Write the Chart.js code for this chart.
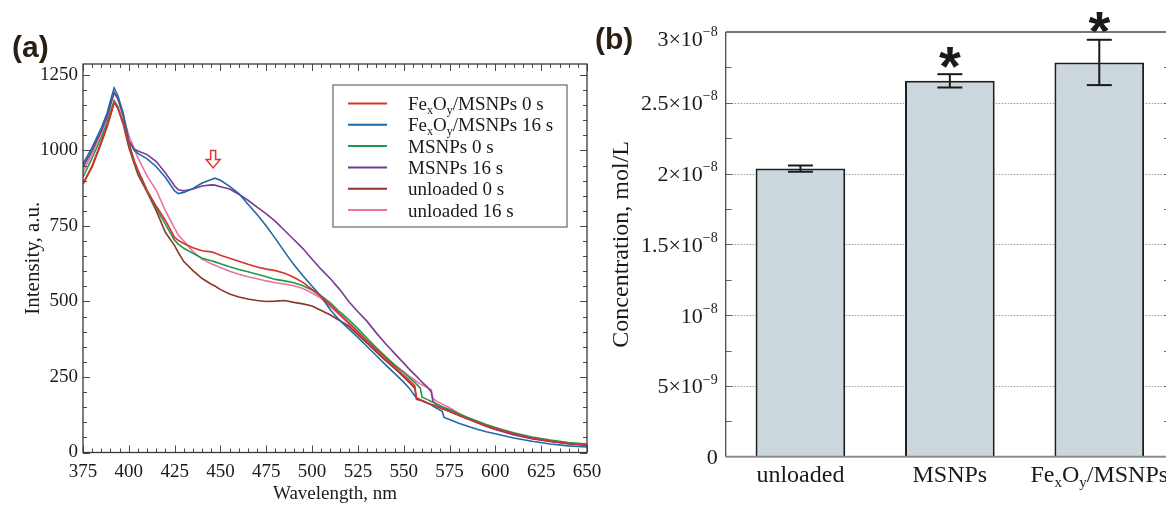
<!DOCTYPE html>
<html>
<head>
<meta charset="utf-8">
<title>Spectra and concentration</title>
<script src="https://cdn.jsdelivr.net/npm/chart.js@4.4.1/dist/chart.umd.min.js"></script>
<style>
    html, body { margin: 0; padding: 0; background: #fff; overflow: hidden; }
    body { width: 1166px; height: 505px; position: relative; }
    #wrapA { position: absolute; left: 0; top: 0; width: 610px; height: 505px; }
    #wrapB { position: absolute; left: 590px; top: 0; width: 584px; height: 505px; }
</style>
</head>
<body>
<div id="wrapA"><canvas id="spectra"></canvas></div>
<div id="wrapB"><canvas id="conc"></canvas></div>
<script>
// ---------- data: panel (a), emission spectra ----------
const wavelengths = [
    375, 380, 385, 388, 390, 392, 394, 397, 400, 403,
    405, 410, 415, 420, 425, 427, 430, 435, 440, 445,
    447, 450, 455, 460, 465, 470, 475, 480, 485, 490,
    495, 500, 505, 510, 515, 520, 525, 530, 535, 540,
    545, 550, 553, 556, 557, 559, 560, 563, 565, 566,
    568, 571, 572, 575, 580, 585, 590, 595, 600, 610,
    620, 630, 640, 650
];
const seriesLabels = ['Fe_xO_y/MSNPs 0 s', 'Fe_xO_y/MSNPs 16 s', 'MSNPs 0 s', 'MSNPs 16 s', 'unloaded 0 s', 'unloaded 16 s'];

const feox0s = [
    890, 950, 1030, 1080, 1120, 1158, 1140, 1090, 1025, 965,
    935, 868, 815, 768, 712, 702, 692, 678, 668, 664,
    660, 653, 643, 633, 623, 614, 607, 602, 593, 580,
    563, 540, 515, 488, 459, 430, 400, 370, 341, 312,
    284, 255, 239, 221, 180, 175, 172, 164, 159, 157,
    152, 145, 143, 136, 123, 111, 100, 89, 79, 62,
    48, 38, 30, 25
];
const feox16s = [
    955, 1010, 1075, 1120, 1165, 1207, 1182, 1122, 1032, 1000,
    990, 972, 946, 910, 866, 857, 861, 874, 892, 904,
    908, 901, 881, 857, 822, 788, 750, 708, 664, 622,
    585, 550, 516, 472, 438, 409, 381, 351, 321, 291,
    262, 233, 213, 188, 181, 175, 171, 163, 158, 154,
    146, 136, 116, 109, 97, 87, 77, 69, 62, 48,
    37, 28, 22, 18
];
const msnp0s = [
    912, 975, 1045, 1090, 1130, 1165, 1145, 1092, 1025, 962,
    930, 865, 808, 755, 702, 690, 676, 659, 643, 635,
    631, 625, 615, 606, 598, 590, 582, 573, 568, 562,
    552, 538, 518, 495, 466, 440, 410, 378, 347, 318,
    290, 264, 248, 232, 226, 214, 183, 175, 169, 166,
    159, 151, 149, 142, 128, 116, 104, 93, 83, 65,
    51, 41, 33, 28
];
const msnp16s = [
    945, 1000, 1065, 1110, 1150, 1192, 1172, 1115, 1030, 1004,
    998, 986, 963, 925, 882, 870, 866, 872, 882, 886,
    885, 880, 872, 855, 835, 812, 790, 765, 735, 705,
    675, 640, 606, 575, 540, 500, 466, 434, 396, 361,
    328, 296, 276, 258, 252, 239, 233, 216, 201, 168,
    161, 151, 147, 139, 126, 113, 99, 87, 76, 59,
    46, 37, 30, 26
];
const unloaded0s = [
    888, 945, 1025, 1075, 1115, 1160, 1140, 1085, 1010, 955,
    920, 862, 800, 728, 685, 662, 632, 602, 576, 557,
    551, 539, 525, 515, 508, 503, 500, 501, 503, 497,
    492, 485, 470, 455, 437, 418, 390, 362, 333, 305,
    278, 250, 232, 213, 176, 173, 171, 164, 159, 157,
    152, 145, 143, 136, 123, 111, 99, 88, 78, 61,
    47, 37, 29, 24
];
const unloaded16s = [
    930, 990, 1060, 1105, 1150, 1189, 1170, 1110, 1050, 1005,
    975, 915, 868, 800, 742, 720, 700, 665, 640, 625,
    620, 612, 600, 590, 582, 575, 568, 562, 558, 552,
    543, 528, 510, 483, 455, 425, 397, 368, 340, 315,
    290, 268, 253, 240, 235, 227, 224, 214, 208, 178,
    170, 160, 157, 148, 130, 113, 99, 87, 77, 59,
    46, 36, 29, 23
];
const intensitySeries = [feox0s, feox16s, msnp0s, msnp16s, unloaded0s, unloaded16s];

const wavelengthTicks = [375, 400, 425, 450, 475, 500, 525, 550, 575, 600, 625, 650];
const intensityTicks = [0, 250, 500, 750, 1000, 1250];
const intensityMax = 1286;
const arrowWavelength = 446;   // the hollow arrow over the 447 nm band
const arrowIntensity = 942;

// ---------- data: panel (b), concentration ----------
const groups = ['unloaded', 'MSNPs', 'Fe_xO_y/MSNPs'];
const concMean = [2.035e-8, 2.655e-8, 2.785e-8];
const concErr = [0.022e-8, 0.047e-8, 0.16e-8];
const significant = [false, true, true];
const concTicks = [0, 5e-9, 1e-8, 1.5e-8, 2e-8, 2.5e-8, 3e-8];
const concTickLabels = ['0', '5×10^−9', '10^−8', '1.5×10^−8', '2×10^−8', '2.5×10^−8', '3×10^−8'];

// ---------- styles ----------
const SERIF = '"Liberation Serif", "Times New Roman", serif';
const SANS = '"Liberation Sans", Arial, sans-serif';
const seriesColors = ['#d8312f', '#1f6aa5', '#1f9a48', '#7b3b90', '#8e3626', '#ec72a2'];
const INK = '#1a1a1a';

// "_x" -> subscript x, "^..." -> rest as superscript
function richParts(str) {
    const parts = [];
    let buf = '';
    for (let i = 0; i < str.length; i++) {
        const c = str[i];
        if (c === '_') {
            if (buf) parts.push({ t: buf });
            buf = '';
            parts.push({ t: str[i + 1], sub: true });
            i++;
        } else if (c === '^') {
            if (buf) parts.push({ t: buf });
            buf = '';
            parts.push({ t: str.slice(i + 1), sup: true });
            break;
        } else {
            buf += c;
        }
    }
    if (buf) parts.push({ t: buf });
    return parts;
}

function drawRich(ctx, str, x, y, size, align) {
    const parts = richParts(str);
    const small = Math.round(size * 0.64);
    let w = 0;
    parts.forEach(p => {
        p.size = (p.sub || p.sup) ? small : size;
        ctx.font = p.size + 'px ' + SERIF;
        p.w = ctx.measureText(p.t).width;
        w += p.w;
    });
    let cx = align === 'right' ? x - w : align === 'center' ? x - w / 2 : x;
    ctx.textAlign = 'left';
    ctx.textBaseline = 'alphabetic';
    parts.forEach(p => {
        ctx.font = p.size + 'px ' + SERIF;
        const dy = p.sub ? size * 0.2 : p.sup ? -size * 0.45 : 0;
        ctx.fillText(p.t, cx, y + dy);
        cx += p.w;
    });
}

function seg(ctx, x1, y1, x2, y2) {
    ctx.beginPath();
    ctx.moveTo(x1, y1);
    ctx.lineTo(x2, y2);
    ctx.stroke();
}

// ---------- panel (a) ----------
const spectraDecor = {
    id: 'spectraDecor',
    afterDraw(chart) {
        const { ctx, chartArea: a, scales: { x, y } } = chart;
        ctx.save();

        // inward ticks on all four sides
        ctx.strokeStyle = '#4a4a4a';
        ctx.lineWidth = 1;
        for (let w = 375; w <= 650; w += 5) {
            const px = Math.round(x.getPixelForValue(w)) + 0.5;
            const len = (w - 375) % 25 === 0 ? 7 : 4;
            seg(ctx, px, a.bottom, px, a.bottom - len);
            seg(ctx, px, a.top, px, a.top + len);
        }
        for (let v = 0; v <= 1250; v += 50) {
            const py = Math.round(y.getPixelForValue(v)) + 0.5;
            const len = v % 250 === 0 ? 7 : 4;
            seg(ctx, a.left, py, a.left + len, py);
            seg(ctx, a.right, py, a.right - len, py);
        }
        ctx.strokeStyle = '#3a3a3a';
        ctx.lineWidth = 1.3;
        ctx.strokeRect(a.left, a.top, a.right - a.left, a.bottom - a.top);

        // legend box
        const bx = a.left + 250, by = a.top + 21, bw = 234, bh = 142;
        ctx.fillStyle = '#fff';
        ctx.fillRect(bx, by, bw, bh);
        ctx.strokeStyle = '#666';
        ctx.lineWidth = 1.2;
        ctx.strokeRect(bx, by, bw, bh);
        seriesLabels.forEach((lab, i) => {
            const ry = by + 18.5 + i * 21.3;
            ctx.strokeStyle = seriesColors[i];
            ctx.lineWidth = 2;
            seg(ctx, bx + 15, ry, bx + 54, ry);
            ctx.fillStyle = INK;
            drawRich(ctx, lab, bx + 75, ry + 6.5, 19, 'left');
        });

        // hollow arrow marking the 447 nm band
        const tx = x.getPixelForValue(arrowWavelength);
        const ty = y.getPixelForValue(arrowIntensity);
        ctx.beginPath();
        ctx.moveTo(tx - 2.5, ty - 17.5);
        ctx.lineTo(tx + 2.5, ty - 17.5);
        ctx.lineTo(tx + 2.5, ty - 8.5);
        ctx.lineTo(tx + 7, ty - 8.5);
        ctx.lineTo(tx, ty);
        ctx.lineTo(tx - 7, ty - 8.5);
        ctx.lineTo(tx - 2.5, ty - 8.5);
        ctx.closePath();
        ctx.fillStyle = '#fff';
        ctx.fill();
        ctx.strokeStyle = '#e3352c';
        ctx.lineWidth = 1.5;
        ctx.stroke();

        // panel letter
        ctx.fillStyle = '#2a1d12';
        ctx.font = 'bold 30px ' + SANS;
        ctx.textAlign = 'left';
        ctx.textBaseline = 'alphabetic';
        ctx.fillText('(a)', 12, 57);
        ctx.restore();
    }
};

new Chart(document.getElementById('spectra'), {
    type: 'line',
    data: {
        datasets: intensitySeries.map((ys, i) => ({
            label: seriesLabels[i],
            data: wavelengths.map((w, k) => ({ x: w, y: ys[k] })),
            borderColor: seriesColors[i],
            borderWidth: 1.6,
            pointRadius: 0,
            tension: 0,
            fill: false
        }))
    },
    options: {
        responsive: true,
        maintainAspectRatio: false,
        animation: false,
        layout: { padding: { left: 0, top: 64, right: 23, bottom: 0 } },
        plugins: { legend: { display: false }, tooltip: { enabled: false } },
        scales: {
            x: {
                type: 'linear',
                min: 375,
                max: 650,
                grid: { display: false, drawTicks: false },
                border: { display: false },
                afterBuildTicks: s => { s.ticks = wavelengthTicks.map(v => ({ value: v })); },
                afterFit: s => { s.height = 52.5; },
                ticks: {
                    color: INK,
                    font: { family: SERIF, size: 19 },
                    padding: 8,
                    maxRotation: 0,
                    autoSkip: false,
                    callback: v => String(v)
                },
                title: { display: true, text: 'Wavelength, nm', color: INK, font: { family: SERIF, size: 19 }, padding: 0 }
            },
            y: {
                min: 0,
                max: intensityMax,
                grid: { display: false, drawTicks: false },
                border: { display: false },
                afterBuildTicks: s => { s.ticks = intensityTicks.map(v => ({ value: v })); },
                afterFit: s => { s.width = 83; },
                ticks: {
                    color: INK,
                    font: { family: SERIF, size: 19 },
                    padding: 5,
                    autoSkip: false,
                    callback: v => String(v)
                },
                title: { display: true, text: 'Intensity, a.u.', color: INK, font: { family: SERIF, size: 21 }, padding: { top: 21, bottom: 0 } }
            }
        }
    },
    plugins: [spectraDecor]
});

// ---------- panel (b) ----------
const concDecor = {
    id: 'concDecor',
    beforeDatasetsDraw(chart) {
        const { ctx, chartArea: a, scales: { y } } = chart;
        ctx.save();
        ctx.strokeStyle = '#9a9a9a';
        ctx.lineWidth = 1;
        ctx.setLineDash([1.5, 1.5]);
        concTicks.slice(1, -1).forEach(v => {
            const py = Math.round(y.getPixelForValue(v)) + 0.5;
            seg(ctx, a.left, py, a.right, py);
        });
        ctx.setLineDash([]);
        ctx.strokeStyle = '#666';
        for (let k = 1; k < 12; k++) {
            const py = Math.round(y.getPixelForValue(k * 2.5e-9)) + 0.5;
            const len = k % 2 === 0 ? 7 : 6;
            seg(ctx, a.left, py, a.left + len, py);
            seg(ctx, a.right, py, a.right - 10, py);
        }
        ctx.restore();
    },
    afterDatasetsDraw(chart) {
        const { ctx, scales: { x, y } } = chart;
        ctx.save();
        ctx.strokeStyle = INK;
        ctx.lineWidth = 2;
        concMean.forEach((m, i) => {
            const cx = x.getPixelForValue(i);
            const top = y.getPixelForValue(m + concErr[i]);
            const bot = y.getPixelForValue(m - concErr[i]);
            seg(ctx, cx, top, cx, bot);
            seg(ctx, cx - 12.5, top, cx + 12.5, top);
            seg(ctx, cx - 12.5, bot, cx + 12.5, bot);
            if (significant[i]) {
                ctx.fillStyle = INK;
                ctx.font = 'bold 56px ' + SANS;
                ctx.textAlign = 'center';
                ctx.textBaseline = 'alphabetic';
                ctx.fillText('*', cx, top + 10.5);
            }
        });
        ctx.restore();
    },
    afterDraw(chart) {
        const { ctx, chartArea: a, scales: { x, y } } = chart;
        ctx.save();
        ctx.lineWidth = 1.3;
        ctx.strokeStyle = '#4a4a4a';
        seg(ctx, a.left, a.top, a.right, a.top);
        seg(ctx, a.left, a.top, a.left, a.bottom);
        seg(ctx, a.right, a.top, a.right, a.bottom);
        ctx.strokeStyle = '#8a8a8a';
        ctx.lineWidth = 2;
        seg(ctx, a.left, a.bottom, a.right, a.bottom);

        ctx.fillStyle = INK;
        concTicks.forEach((v, i) => {
            const py = Math.max(y.getPixelForValue(v), a.top + 6);
            drawRich(ctx, concTickLabels[i], a.left - 8, py + 7.5, 22, 'right');
        });
        groups.forEach((g, i) => {
            drawRich(ctx, g, x.getPixelForValue(i), a.bottom + 25, 24, 'center');
        });

        ctx.fillStyle = '#2a1d12';
        ctx.font = 'bold 30px ' + SANS;
        ctx.textAlign = 'left';
        ctx.textBaseline = 'alphabetic';
        ctx.fillText('(b)', 5, 49);
        ctx.restore();
    }
};

new Chart(document.getElementById('conc'), {
    type: 'bar',
    data: {
        labels: groups,
        datasets: [{
            data: concMean,
            backgroundColor: '#cbd6dd',
            borderColor: '#1e1e1e',
            borderWidth: 2,
            barPercentage: 0.6,
            categoryPercentage: 1
        }]
    },
    options: {
        responsive: true,
        maintainAspectRatio: false,
        animation: false,
        layout: { padding: { left: 0, top: 32, right: 0, bottom: 0 } },
        plugins: { legend: { display: false }, tooltip: { enabled: false } },
        scales: {
            x: {
                grid: { display: false },
                border: { display: false },
                ticks: { display: false },
                afterFit: s => { s.height = 48.3; }
            },
            y: {
                min: 0,
                max: 3e-8,
                grid: { display: false },
                border: { display: false },
                ticks: { display: false },
                afterFit: s => { s.width = 135.7; },
                title: { display: true, text: 'Concentration, mol/L', color: INK, font: { family: SERIF, size: 24 }, padding: { top: 17, bottom: 0 } }
            }
        }
    },
    plugins: [concDecor]
});
</script>
</body>
</html>
